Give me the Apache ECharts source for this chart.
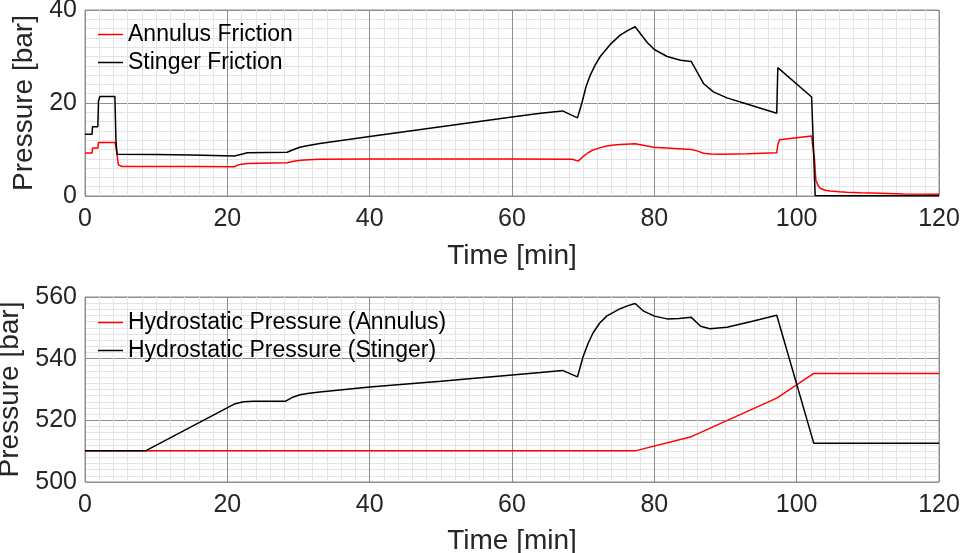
<!DOCTYPE html>
<html>
<head>
<meta charset="utf-8">
<script src="https://cdn.jsdelivr.net/npm/echarts@6/dist/echarts.min.js"></script>
<style>
html,body{margin:0;padding:0;background:#fff;}
#chart{width:962px;height:553px;}
</style>
</head>
<body>
<div id="chart"></div>
<script>
// ---- Data ----
const xTicks = [0, 20, 40, 60, 80, 100, 120];
const frictionTicks = [0, 20, 40];
const hydroTicks = [500, 520, 540, 560];

const annulusFrictionTime = [0, 1.0, 1.05, 1.8, 1.9, 4.25, 4.45, 4.7, 5.2, 6, 10, 15, 21, 21.4, 22, 22.8, 28.4, 29.3, 30.3, 31.5, 33, 40, 50, 60, 68.5, 69.3, 70, 70.7, 71.4, 72.3, 73.3, 74.3, 75.2, 77.3, 79.9, 85.2, 86, 86.9, 88, 89.2, 93, 97.2, 97.35, 97.6, 102.1, 102.3, 102.5, 102.7, 103, 103.3, 104, 104.7, 106, 107, 109, 111.7, 115, 120];
const annulusFriction = [9.25, 9.25, 10.3, 10.3, 11.5, 11.5, 9.5, 6.7, 6.35, 6.35, 6.35, 6.35, 6.3, 6.6, 6.85, 7.0, 7.15, 7.45, 7.7, 7.8, 7.9, 7.95, 7.95, 7.95, 7.9, 7.5, 8.5, 9.3, 9.9, 10.35, 10.75, 10.95, 11.1, 11.25, 10.5, 10.0, 9.7, 9.2, 9.05, 9.0, 9.1, 9.3, 11.0, 12.1, 12.9, 12.5, 8.0, 3.4, 2.3, 1.65, 1.25, 1.07, 0.9, 0.8, 0.68, 0.57, 0.45, 0.35];

const stingerFrictionTime = [0, 1.0, 1.05, 1.8, 1.9, 2.1, 4.2, 4.35, 4.5, 10, 15, 21, 22, 22.8, 28.4, 29.3, 30.2, 31.2, 33, 40, 50, 60, 64, 67.1, 69.2, 69.8, 70.4, 71, 71.7, 72.4, 73.8, 75.2, 76.3, 77.3, 78, 79, 80, 81.8, 83.7, 85.2, 86, 86.9, 88.3, 90.2, 93, 97.2, 97.35, 102.1, 102.6, 105, 120];
const stingerFriction = [13.3, 13.3, 14.9, 14.9, 20.5, 21.4, 21.4, 12.0, 9.0, 8.9, 8.8, 8.6, 9.0, 9.3, 9.4, 10.0, 10.5, 10.8, 11.3, 12.8, 14.9, 17.0, 17.8, 18.3, 16.8, 19.9, 23.5, 26.0, 28.2, 30.0, 32.6, 34.6, 35.6, 36.4, 35.0, 33.0, 31.5, 30.0, 29.2, 28.9, 26.7, 24.2, 22.4, 21.1, 19.8, 17.8, 27.6, 21.3, 0.1, 0.05, 0.05];

const hydroAnnulusTime = [0, 77.3, 85.2, 97.2, 102.4, 120];
const hydroAnnulus = [510.1, 510.1, 514.7, 527.2, 535.2, 535.2];

const hydroStingerTime = [0, 8.5, 21.1, 22.3, 23.7, 28.2, 29.2, 30.2, 31.5, 33, 40, 50, 60, 64, 67.1, 69.2, 70, 70.7, 71.4, 72.3, 73.3, 75.2, 76.3, 77.3, 78.5, 80, 81.8, 83.5, 85.2, 86.5, 87.8, 90.2, 93.5, 97.2, 102.4, 120];
const hydroStinger = [510.1, 510.1, 525.4, 526.0, 526.2, 526.2, 527.5, 528.3, 528.8, 529.2, 530.8, 532.7, 534.7, 535.5, 536.2, 534.1, 540.7, 545.0, 548.4, 551.5, 553.8, 556.2, 557.2, 557.9, 555.4, 553.8, 552.9, 553.0, 553.4, 550.5, 549.7, 550.2, 552.0, 554.1, 512.6, 512.6];

const seriesNames = ['Annulus Friction', 'Stinger Friction', 'Hydrostatic Pressure (Annulus)', 'Hydrostatic Pressure (Stinger)'];

// ---- Build ----
function pairs(t, v) { return t.map((x, i) => [x, v[i]]); }
const FONT = '"Liberation Sans", Arial, Helvetica, sans-serif';
const TXT = '#262626';

function xAxisCfg(gi, gap) {
  return {
    type: 'value', gridIndex: gi,
    min: xTicks[0], max: xTicks[xTicks.length - 1], interval: xTicks[1] - xTicks[0],
    name: 'Time [min]', nameLocation: 'middle', nameGap: gap,
    nameTextStyle: { fontFamily: FONT, fontSize: 28, color: TXT },
    axisLine: { show: false }, axisTick: { show: false },
    axisLabel: { fontFamily: FONT, fontSize: 25, color: TXT, margin: 11 },
    splitLine: { show: true, lineStyle: { color: '#8e8e8e', width: 1 } },
    minorTick: { show: false, splitNumber: 10 },
    minorSplitLine: { show: true, lineStyle: { color: '#e4e4e4', width: 1 } }
  };
}
function yAxisCfg(gi, ticks, gap) {
  return {
    type: 'value', gridIndex: gi,
    min: ticks[0], max: ticks[ticks.length - 1], interval: ticks[1] - ticks[0],
    name: 'Pressure [bar]', nameLocation: 'middle', nameGap: gap,
    nameTextStyle: { fontFamily: FONT, fontSize: 28, color: TXT },
    axisLine: { show: false }, axisTick: { show: false },
    axisLabel: { fontFamily: FONT, fontSize: 25, color: TXT, margin: 8 },
    splitLine: { show: true, lineStyle: { color: '#8e8e8e', width: 1 } },
    minorTick: { show: false, splitNumber: 10 },
    minorSplitLine: { show: true, lineStyle: { color: '#e4e4e4', width: 1 } }
  };
}
function lineSeries(name, gi, data, color) {
  return {
    name: name, type: 'line', xAxisIndex: gi, yAxisIndex: gi,
    data: data, showSymbol: false, symbol: 'none', smooth: false,
    lineStyle: { color: color, width: 1.5 }, itemStyle: { color: color },
    animation: false, z: 5
  };
}
function legendCfg(names, top) {
  return {
    data: names, orient: 'vertical', left: 98, top: top, padding: 0,
    itemWidth: 25, itemHeight: 14, itemGap: 5,
    textStyle: { fontFamily: FONT, fontSize: 23, color: '#000' },
    icon: 'path://M0,0 L25,0 L25,1.5 L0,1.5 Z'
  };
}

const chart = echarts.init(document.getElementById('chart'), null, { renderer: 'canvas' });
chart.setOption({
  backgroundColor: '#fff',
  animation: false,
  grid: [
    { left: 85, top: 10, width: 854, height: 186, show: true, borderColor: '#8e8e8e', borderWidth: 1, backgroundColor: 'transparent', containLabel: false, outerBoundsMode: 'none' },
    { left: 85, top: 297, width: 854, height: 185, show: true, borderColor: '#8e8e8e', borderWidth: 1, backgroundColor: 'transparent', containLabel: false, outerBoundsMode: 'none' }
  ],
  xAxis: [xAxisCfg(0, 46), xAxisCfg(1, 45)],
  yAxis: [yAxisCfg(0, frictionTicks, 41), yAxisCfg(1, hydroTicks, 54)],
  legend: [legendCfg([seriesNames[0], seriesNames[1]], 23), legendCfg([seriesNames[2], seriesNames[3]], 311)],
  series: [
    lineSeries(seriesNames[0], 0, pairs(annulusFrictionTime, annulusFriction), '#ff0000'),
    lineSeries(seriesNames[1], 0, pairs(stingerFrictionTime, stingerFriction), '#000000'),
    lineSeries(seriesNames[2], 1, pairs(hydroAnnulusTime, hydroAnnulus), '#ff0000'),
    lineSeries(seriesNames[3], 1, pairs(hydroStingerTime, hydroStinger), '#000000')
  ]
});
</script>
</body>
</html>
